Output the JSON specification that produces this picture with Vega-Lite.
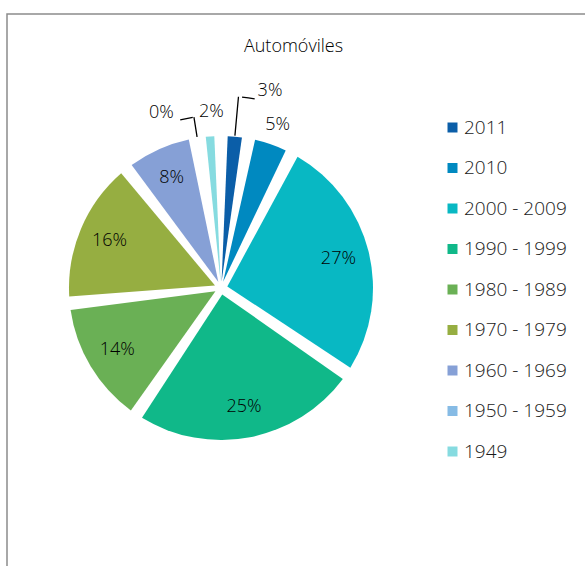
{
  "$schema": "https://vega.github.io/schema/vega-lite/v6.json",
  "width": 585,
  "height": 566,
  "autosize": {"type": "fit", "contains": "padding"},
  "padding": {"left": 7, "top": 14, "right": -3, "bottom": -3},
  "background": "white",
  "view": {"stroke": "#8c8c8c", "strokeWidth": 1.5},
  "config": {"view": {"stroke": "#8c8c8c", "strokeWidth": 1.5}},
  "title": {"text": "Automóviles", "offset": -42, "fontSize": 18, "font": "Open Sans", "fontWeight": 300, "color": "#000000", "anchor": "middle", "dx": -4},
  "data": {
    "values": [
      {"period": "2011", "value": 2.9, "label": "3%", "order": 1},
      {"period": "2010", "value": 4.8, "label": "5%", "order": 2},
      {"period": "2000 - 2009", "value": 26.8, "label": "27%", "order": 3},
      {"period": "1990 - 1999", "value": 24.9, "label": "25%", "order": 4},
      {"period": "1980 - 1989", "value": 14.0, "label": "14%", "order": 5},
      {"period": "1970 - 1979", "value": 15.9, "label": "16%", "order": 6},
      {"period": "1960 - 1969", "value": 8.0, "label": "8%", "order": 7},
      {"period": "1950 - 1959", "value": 0.4, "label": "0%", "order": 8},
      {"period": "1949", "value": 2.3, "label": "2%", "order": 9}
    ]
  },
  "encoding": {
    "theta": {"field": "value", "type": "quantitative", "stack": true},
    "order": {"field": "order", "type": "quantitative"},
    "color": {
      "field": "period",
      "type": "nominal",
      "scale": {
        "domain": ["2011", "2010", "2000 - 2009", "1990 - 1999", "1980 - 1989", "1970 - 1979", "1960 - 1969", "1950 - 1959", "1949"],
        "range": ["#0b5ea8", "#0089c0", "#08b8c3", "#10b889", "#6ab055", "#96ae41", "#86a0d6", "#86bbe5", "#86dbe0"]
      },
      "legend": {
        "orient": "none", "legendX": 436, "legendY": 104, "title": null,
        "symbolType": "square", "symbolSize": 100, "symbolStrokeWidth": 0,
        "labelFontSize": 19, "labelFont": "Open Sans", "labelFontWeight": 300, "labelColor": "#1a1a1a",
        "rowPadding": 20.5, "labelOffset": 2, "padding": 0
      }
    }
  },
  "layer": [
    {"mark": {"type": "arc", "outerRadius": 152, "innerRadius": 6.5, "padAngle": 0.088, "x": 214, "y": 274}},
    {
      "mark": {"type": "text", "radius": 121, "x": 214, "y": 274, "fontSize": 18, "font": "Open Sans", "fontWeight": 300},
      "encoding": {"text": {"condition": {"test": "datum.value >= 8", "field": "label"}, "value": ""}, "color": {"value": "#000000"}}
    },
    {
      "mark": {"type": "text", "radius": 173, "x": 214, "y": 274, "fontSize": 18, "font": "Open Sans", "fontWeight": 300},
      "encoding": {"text": {"condition": {"test": "datum.period == '2010'", "field": "label"}, "value": ""}, "color": {"value": "#000000"}}
    },
    {
      "mark": {"type": "text", "radius": 176, "x": 214, "y": 274, "dx": 3, "fontSize": 18, "font": "Open Sans", "fontWeight": 300},
      "encoding": {"text": {"condition": {"test": "datum.period == '1949'", "field": "label"}, "value": ""}, "color": {"value": "#000000"}}
    },
    {
      "mark": {"type": "text", "radius": 198, "x": 214, "y": 274, "dx": 31, "fontSize": 18, "font": "Open Sans", "fontWeight": 300},
      "encoding": {"text": {"condition": {"test": "datum.period == '2011'", "field": "label"}, "value": ""}, "color": {"value": "#000000"}}
    },
    {
      "mark": {"type": "text", "radius": 177, "x": 214, "y": 274, "dx": -32, "fontSize": 18, "font": "Open Sans", "fontWeight": 300},
      "encoding": {"text": {"condition": {"test": "datum.period == '1950 - 1959'", "field": "label"}, "value": ""}, "color": {"value": "#000000"}}
    },
    {
      "mark": {"type": "arc", "outerRadius": 192, "innerRadius": 153, "padAngle": 3.14, "x": 214, "y": 274, "filled": false, "strokeWidth": 1.3},
      "encoding": {"color": {"value": "#000000"}, "strokeOpacity": {"condition": {"test": "datum.period == '2011'", "value": 1}, "value": 0}}
    },
    {
      "mark": {"type": "arc", "outerRadius": 192, "innerRadius": 192, "padAngle": 0.0819, "thetaOffset": 0.052, "x": 214, "y": 274, "filled": false, "strokeWidth": 1.3},
      "encoding": {"color": {"value": "#000000"}, "strokeOpacity": {"condition": {"test": "datum.period == '2011'", "value": 1}, "value": 0}}
    },
    {
      "mark": {"type": "arc", "outerRadius": 173, "innerRadius": 153, "padAngle": 3.14, "x": 214, "y": 274, "filled": false, "strokeWidth": 1.3},
      "encoding": {"color": {"value": "#000000"}, "strokeOpacity": {"condition": {"test": "datum.period == '1950 - 1959'", "value": 1}, "value": 0}}
    },
    {
      "mark": {"type": "arc", "outerRadius": 173, "innerRadius": 173, "padAngle": 0.302, "thetaOffset": 0.22, "x": 214, "y": 274, "filled": false, "strokeWidth": 1.3},
      "encoding": {"color": {"value": "#000000"}, "strokeOpacity": {"condition": {"test": "datum.period == '1960 - 1969'", "value": 1}, "value": 0}}
    }
  ]
}
